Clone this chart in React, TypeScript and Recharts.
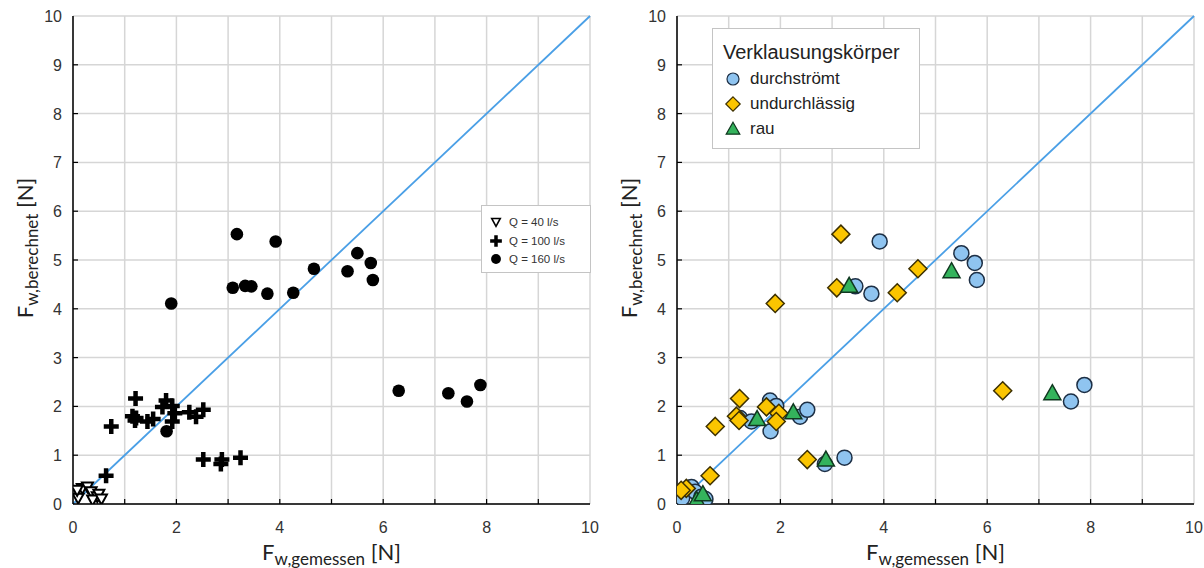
import React from 'react';
import { ScatterChart, Scatter, XAxis, YAxis, CartesianGrid, ReferenceLine } from 'recharts';

// Gemessene Kraft F_w,gemessen [N]
const gemessen = [
  1.90, 3.17, 3.92, 3.09, 3.33, 3.45, 3.76, 4.26, 4.66, 5.31, 5.50, 5.76, 5.80, 6.30, 7.26, 7.62, 7.88, 1.81,
  1.21, 0.74, 1.15, 1.22, 1.20, 1.44, 1.55, 1.80, 1.73, 1.92, 1.97, 1.92, 2.25, 2.38, 2.52, 2.52, 2.86, 2.88, 3.24, 0.64,
  0.10, 0.18, 0.28, 0.35, 0.47, 0.38, 0.50, 0.08, 0.55,
];
// Berechnete Kraft F_w,berechnet [N]
const berechnet = [
  4.11, 5.53, 5.38, 4.43, 4.47, 4.46, 4.31, 4.33, 4.82, 4.77, 5.14, 4.94, 4.59, 2.32, 2.27, 2.10, 2.44, 1.49,
  2.16, 1.59, 1.80, 1.76, 1.71, 1.69, 1.74, 2.12, 1.99, 2.01, 1.86, 1.69, 1.88, 1.79, 1.93, 0.91, 0.82, 0.91, 0.95, 0.58,
  0.12, 0.32, 0.35, 0.25, 0.15, 0.08, 0.20, 0.28, 0.10,
];
// Durchfluss Q [l/s]
const durchfluss = [
  160, 160, 160, 160, 160, 160, 160, 160, 160, 160, 160, 160, 160, 160, 160, 160, 160, 160,
  100, 100, 100, 100, 100, 100, 100, 100, 100, 100, 100, 100, 100, 100, 100, 100, 100, 100, 100, 100,
  40, 40, 40, 40, 40, 40, 40, 40, 40,
];
// Verklausungskörper: D = durchströmt, U = undurchlässig, R = rau
const koerper = [
  'U', 'U', 'D', 'U', 'R', 'D', 'D', 'U', 'U', 'R', 'D', 'D', 'D', 'U', 'R', 'D', 'D', 'D',
  'U', 'U', 'U', 'D', 'U', 'D', 'R', 'D', 'U', 'D', 'U', 'U', 'R', 'D', 'D', 'U', 'D', 'R', 'D', 'U',
  'D', 'U', 'D', 'D', 'D', 'R', 'R', 'U', 'D',
];

const axisTicks = [0, 1, 2, 3, 4, 5, 6, 7, 8, 9, 10];
const xTickLabels = [0, 2, 4, 6, 8, 10];
const qStufen = [40, 100, 160];
const qLabels = ['Q = 40 l/s', 'Q = 100 l/s', 'Q = 160 l/s'];
const koerperKeys = ['D', 'U', 'R'];
const koerperLabels = ['durchströmt', 'undurchlässig', 'rau'];
const legendTitle = 'Verklausungskörper';
const diagonal = [{ x: 0, y: 0 }, { x: 10, y: 10 }];

const points = gemessen.map((x, i) => ({ x, y: berechnet[i], q: durchfluss[i], k: koerper[i] }));

const TICK_FONT = '"Liberation Sans", Arial, sans-serif';
const TITLE_FONT = 'Lato, "Open Sans", sans-serif';

// ---- markers ----
const TriDown = (p: any) => (
  <polygon points={`${p.cx - 5.5},${p.cy - 4.5} ${p.cx + 5.5},${p.cy - 4.5} ${p.cx},${p.cy + 5.5}`} fill="#fff" stroke="#000" strokeWidth={2} />
);
const PlusMark = (p: any) => (
  <path d={`M${p.cx - 7.5},${p.cy}H${p.cx + 7.5}M${p.cx},${p.cy - 7.5}V${p.cy + 7.5}`} stroke="#000" strokeWidth={4.5} fill="none" />
);
const DotMark = (p: any) => <circle cx={p.cx} cy={p.cy} r={6.3} fill="#000" />;

const BlueCircle = (p: any) => <circle cx={p.cx} cy={p.cy} r={7.5} fill="#8fc4f0" stroke="#1d2f45" strokeWidth={1.5} />;
const GoldDiamond = (p: any) => (
  <polygon points={`${p.cx},${p.cy - 9} ${p.cx + 9},${p.cy} ${p.cx},${p.cy + 9} ${p.cx - 9},${p.cy}`} fill="#fbc500" stroke="#3d3000" strokeWidth={1.5} />
);
const GreenTri = (p: any) => (
  <polygon points={`${p.cx},${p.cy - 8.5} ${p.cx + 8.5},${p.cy + 6.5} ${p.cx - 8.5},${p.cy + 6.5}`} fill="#34b35c" stroke="#103820" strokeWidth={1.5} />
);

const qShapes = [TriDown, PlusMark, DotMark];
const kShapes = [BlueCircle, GoldDiamond, GreenTri];

// ---- axis ticks (inward tick marks) ----
const XTick = (props: any) => {
  const { x, y, payload } = props;
  const v = payload.value;
  return (
    <g>
      {v > 0 && v < 10 && <line x1={x} x2={x} y1={y} y2={y - 5} stroke="#000" strokeWidth={1.2} />}
      {xTickLabels.includes(v) && (
        <text x={x} y={y + 29} textAnchor="middle" fontSize={16} fill="#333" fontFamily={TICK_FONT}>
          {v}
        </text>
      )}
    </g>
  );
};
const YTick = (props: any) => {
  const { x, y, payload } = props;
  const v = payload.value;
  return (
    <g>
      {v > 0 && v < 10 && <line x1={x} x2={x + 5} y1={y} y2={y} stroke="#000" strokeWidth={1.2} />}
      <text x={x - 11} y={y + 6} textAnchor="end" fontSize={16} fill="#333" fontFamily={TICK_FONT}>
        {v}
      </text>
    </g>
  );
};

const XTitle = (props: any) => {
  const vb = props.viewBox;
  return (
    <text x={vb.x + vb.width / 2} y={vb.y + 56} textAnchor="middle" fill="#222" fontFamily={TITLE_FONT}>
      <tspan fontSize={22}>F</tspan>
      <tspan fontSize={17} dy={5}>w,gemessen</tspan>
      <tspan fontSize={22} dy={-5}> [N]</tspan>
    </text>
  );
};
const YTitle = (props: any) => {
  const vb = props.viewBox;
  const cx = vb.x + 10;
  const cy = vb.y + vb.height / 2 - 12;
  return (
    <text x={cx} y={cy} transform={`rotate(-90 ${cx} ${cy})`} textAnchor="middle" fill="#222" fontFamily={TITLE_FONT}>
      <tspan fontSize={22}>F</tspan>
      <tspan fontSize={17} dy={5}>w,berechnet</tspan>
      <tspan fontSize={22} dy={-5}> [N]</tspan>
    </text>
  );
};

const Panel = ({ children, marginLeft }: any) => (
  <ScatterChart width={marginLeft === 23 ? 600 : 604} height={568} margin={{ top: 16, right: 10, bottom: 34, left: marginLeft }}>
    <CartesianGrid stroke="#d6d6d6" strokeWidth={1.5} />
    <XAxis
      type="number"
      dataKey="x"
      domain={[0, 10]}
      ticks={axisTicks}
      interval={0}
      tickSize={0}
      tickMargin={0}
      tickLine={false}
      tick={<XTick />}
      axisLine={{ stroke: '#000', strokeWidth: 1.5 }}
      height={30}
      allowDataOverflow
      label={(p: any) => <XTitle {...p} />}
    />
    <YAxis
      type="number"
      dataKey="y"
      domain={[0, 10]}
      ticks={axisTicks}
      interval={0}
      tickSize={0}
      tickMargin={0}
      tickLine={false}
      tick={<YTick />}
      axisLine={{ stroke: '#000', strokeWidth: 1.5 }}
      width={50}
      allowDataOverflow
      label={(p: any) => <YTitle {...p} />}
    />
    {children}
    <ReferenceLine segment={diagonal} stroke="#4a9fe6" strokeWidth={1.8} />
  </ScatterChart>
);

const boxStyle: React.CSSProperties = {
  position: 'absolute',
  background: '#fff',
  border: '1px solid #c4c4c4',
  boxSizing: 'border-box',
  fontFamily: TICK_FONT,
  color: '#222',
};

export default function App() {
  return (
    <div style={{ position: 'absolute', left: 0, top: 0, width: 1204, height: 568, background: '#fff', overflow: 'hidden' }}>
      <div style={{ position: 'absolute', left: 0, top: 0 }}>
        <Panel marginLeft={23}>
          {qStufen.map((q, i) => (
            <Scatter
              key={q}
              name={qLabels[i]}
              data={points.filter((p) => p.q === q)}
              shape={qShapes[i]}
              isAnimationActive={false}
            />
          ))}
        </Panel>
      </div>
      <div style={{ position: 'absolute', left: 600, top: 0 }}>
        <Panel marginLeft={27}>
          {koerperKeys.map((k, i) => (
            <Scatter
              key={k}
              name={koerperLabels[i]}
              data={points.filter((p) => p.k === k)}
              shape={kShapes[i]}
              isAnimationActive={false}
            />
          ))}
        </Panel>
      </div>

      {/* Legend left */}
      <div style={{ ...boxStyle, left: 481, top: 205, width: 110, height: 68 }}>
        {qLabels.map((lab, i) => {
          const S = qShapes[i];
          return (
            <div key={lab} style={{ position: 'absolute', left: 6, top: 8 + i * 18.5, height: 16, display: 'flex', alignItems: 'center' }}>
              <svg width={16} height={16} style={{ display: 'block' }}>
                <g transform="translate(8 8) scale(0.78) translate(-8 -8)">
                  <S cx={8} cy={8} />
                </g>
              </svg>
              <span style={{ marginLeft: 5, fontSize: 11.5, color: '#333', whiteSpace: 'nowrap' }}>{lab}</span>
            </div>
          );
        })}
      </div>

      {/* Legend right */}
      <div style={{ ...boxStyle, left: 712, top: 28, width: 208, height: 121 }}>
        <div style={{ position: 'absolute', left: 10, top: 12, fontSize: 20, whiteSpace: 'nowrap', lineHeight: '22px' }}>{legendTitle}</div>
        {koerperLabels.map((lab, i) => {
          const S = kShapes[i];
          return (
            <div key={lab} style={{ position: 'absolute', left: 10, top: 39 + i * 25, height: 22, display: 'flex', alignItems: 'center' }}>
              <svg width={20} height={20} style={{ display: 'block' }}>
                <g transform="translate(10 10) scale(0.8) translate(-10 -10)">
                  <S cx={10} cy={10} />
                </g>
              </svg>
              <span style={{ marginLeft: 7, fontSize: 17, color: '#222', whiteSpace: 'nowrap' }}>{lab}</span>
            </div>
          );
        })}
      </div>
    </div>
  );
}
